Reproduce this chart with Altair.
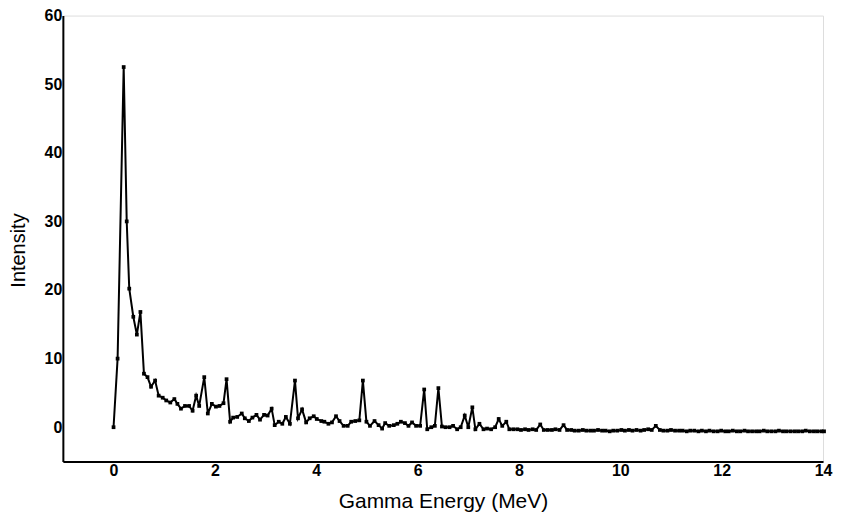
import altair as alt
import pandas as pd

energy = [
    0.00, 0.08, 0.20, 0.26, 0.31, 0.39, 0.46, 0.53, 0.60, 0.67,
    0.74, 0.82, 0.89, 0.97, 1.04, 1.12, 1.20, 1.26, 1.33, 1.41,
    1.49, 1.56, 1.63, 1.69, 1.79, 1.86, 1.94, 2.02, 2.09, 2.17,
    2.23, 2.30, 2.36, 2.44, 2.53, 2.59, 2.67, 2.74, 2.82, 2.89,
    2.97, 3.04, 3.12, 3.18, 3.26, 3.33, 3.40, 3.48, 3.58, 3.64,
    3.72, 3.80, 3.87, 3.95, 4.01, 4.10, 4.16, 4.24, 4.31, 4.39,
    4.46, 4.54, 4.62, 4.69, 4.77, 4.85, 4.92, 4.99, 5.06, 5.15,
    5.23, 5.30, 5.36, 5.44, 5.53, 5.60, 5.67, 5.75, 5.82, 5.89,
    5.97, 6.05, 6.13, 6.19, 6.27, 6.34, 6.41, 6.48, 6.55, 6.63,
    6.70, 6.78, 6.85, 6.93, 7.00, 7.08, 7.14, 7.22, 7.30, 7.37,
    7.45, 7.53, 7.60, 7.67, 7.75, 7.81, 7.89, 7.97, 8.04, 8.12,
    8.19, 8.27, 8.34, 8.42, 8.49, 8.57, 8.65, 8.72, 8.80, 8.88,
    8.95, 9.03, 9.10, 9.18, 9.26, 9.33, 9.41, 9.48, 9.56, 9.64,
    9.71, 9.79, 9.86, 9.94, 10.02, 10.09, 10.17, 10.24, 10.32, 10.40,
    10.47, 10.55, 10.62, 10.70, 10.78, 10.85, 10.93, 11.00, 11.08, 11.16,
    11.23, 11.31, 11.38, 11.46, 11.54, 11.61, 11.69, 11.76, 11.84, 11.92,
    11.99, 12.07, 12.14, 12.22, 12.30, 12.37, 12.45, 12.52, 12.60, 12.68,
    12.75, 12.83, 12.90, 12.98, 13.06, 13.13, 13.21, 13.28, 13.36, 13.44,
    13.51, 13.59, 13.66, 13.74, 13.82, 13.89, 13.97, 14.02,
]

intensity = [
    0, 10, 52.5, 30, 20.2, 16.1, 13.5, 16.8, 7.8, 7.3,
    5.9, 6.8, 4.6, 4.3, 3.9, 3.6, 4.1, 3.4, 2.7, 3.1,
    3.1, 2.4, 4.6, 3.1, 7.3, 2.0, 3.4, 3.0, 3.1, 3.5,
    7.0, 0.8, 1.4, 1.5, 2.0, 1.3, 0.9, 1.4, 1.8, 1.1,
    1.8, 1.7, 2.7, 0.3, 0.8, 0.5, 1.5, 0.5, 6.8, 1.3,
    2.6, 0.7, 1.3, 1.6, 1.2, 0.9, 0.8, 0.5, 0.7, 1.6,
    0.9, 0.2, 0.2, 0.8, 0.9, 1.0, 6.8, 0.8, 0.2, 0.9,
    0.3, -0.2, 0.6, 0.2, 0.3, 0.5, 0.8, 0.6, 0.2, 0.7,
    0.2, 0.2, 5.5, -0.3, 0.0, 0.2, 5.7, 0.1, 0.0, 0.0,
    0.2, -0.3, 0.0, 1.7, 0.0, 2.9, -0.3, 0.5, -0.3, -0.2,
    -0.3, 0.0, 1.2, 0.2, 0.8, -0.3, -0.3, -0.3, -0.4, -0.3,
    -0.4, -0.3, -0.4, 0.4, -0.4, -0.4, -0.4, -0.3, -0.4, 0.3,
    -0.4, -0.4, -0.5, -0.5, -0.4, -0.5, -0.5, -0.5, -0.4, -0.5,
    -0.5, -0.6, -0.5, -0.5, -0.4, -0.5, -0.4, -0.5, -0.4, -0.5,
    -0.4, -0.3, -0.4, 0.2, -0.4, -0.5, -0.5, -0.4, -0.5, -0.5,
    -0.5, -0.6, -0.5, -0.5, -0.6, -0.5, -0.6, -0.5, -0.6, -0.6,
    -0.5, -0.6, -0.6, -0.5, -0.6, -0.6, -0.5, -0.6, -0.6, -0.6,
    -0.6, -0.5, -0.6, -0.6, -0.6, -0.5, -0.6, -0.6, -0.6, -0.6,
    -0.6, -0.6, -0.5, -0.6, -0.6, -0.6, -0.6, -0.6,
]

x_ticks = [0, 2, 4, 6, 8, 10, 12, 14]
y_ticks = [0, 10, 20, 30, 40, 50, 60]

assert len(energy) == len(intensity)
df = pd.DataFrame({"energy": energy, "intensity": intensity})

FONT = "Liberation Sans"

x_enc = alt.X(
    "energy:Q",
    scale=alt.Scale(domain=[-1, 14], nice=False, zero=False),
    axis=alt.Axis(
        title="Gamma Energy (MeV)",
        values=x_ticks,
        grid=False,
        ticks=False,
        domainColor="black",
        domainWidth=2,
        labelFont=FONT,
        labelFontSize=16,
        labelFontWeight="bold",
        labelColor="black",
        labelPadding=1,
        labelFlush=False,
        titleFont=FONT,
        titleFontSize=21,
        titleFontWeight="normal",
        titleColor="black",
        titleY=46,
        titleBaseline="alphabetic",
    ),
)
y_enc = alt.Y(
    "intensity:Q",
    scale=alt.Scale(domain=[-5, 60], nice=False, zero=False),
    axis=alt.Axis(
        title="Intensity",
        values=y_ticks,
        grid=False,
        ticks=False,
        domainColor="black",
        domainWidth=2,
        labelFont=FONT,
        labelFontSize=16,
        labelFontWeight="bold",
        labelColor="black",
        labelPadding=1,
        labelFlush=False,
        titleFont=FONT,
        titleFontSize=20,
        titleFontWeight="normal",
        titleColor="black",
        titleAngle=-90,
        titleX=-44,
        titleY=235,
        titleAlign="center",
        titleBaseline="middle",
    ),
)

line = alt.Chart(df).mark_line(color="black", strokeWidth=2).encode(x=x_enc, y=y_enc)
pts = alt.Chart(df).mark_point(
    filled=True, color="black", size=14, shape="square", opacity=1
).encode(x="energy:Q", y="intensity:Q")

chart = (
    alt.layer(line, pts)
    .properties(
        width=762,
        height=447,
        autosize=alt.AutoSizeParams(type="none"),
        padding={"left": 55, "top": 7, "right": 12, "bottom": 52},
    )
    .configure_view(stroke=None)
    .configure(background="white")
)

chart.save("out.html", embed_options={"renderer": "svg", "actions": False})
